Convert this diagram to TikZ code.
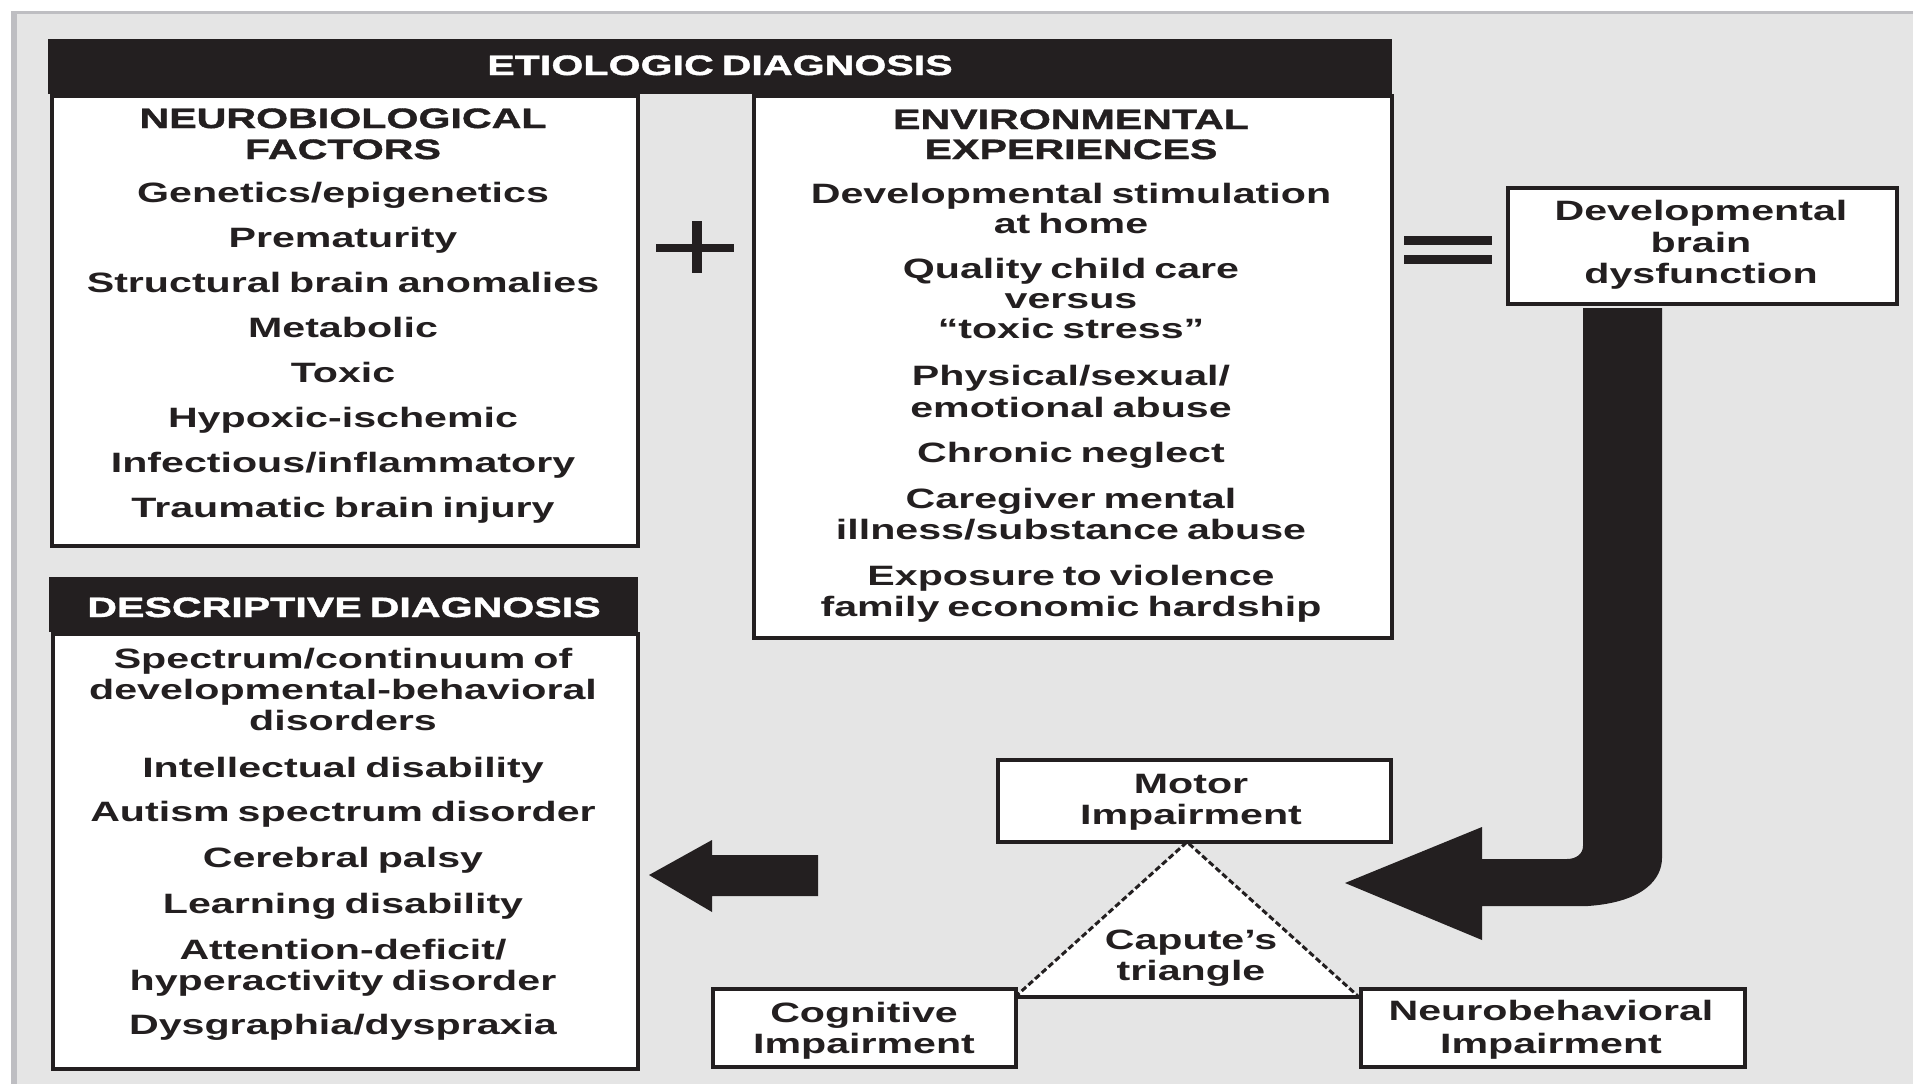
\documentclass[tikz,border=0pt]{standalone}
\usepackage{fontspec}
\setmainfont{Liberation Sans}[FakeStretch=1.47, WordSpace=0.7]
\newfontfamily\headfont{Liberation Sans}[FakeStretch=1.47, WordSpace=0.7, FakeBold=1.5]
\definecolor{ink}{HTML}{231F20}
\definecolor{bgc}{HTML}{E5E5E5}
\definecolor{framec}{HTML}{BEBEC2}
\newcommand\dfont{\fontsize{28}{31}\selectfont\bfseries}
\newcommand\hfont{\headfont\fontsize{28}{31}\selectfont\bfseries}
\tikzset{
  boxed/.style={draw=ink, line width=4pt, fill=white, inner sep=0pt, anchor=north west},
  headbar/.style={fill=ink, inner sep=0pt, anchor=north west},
  txt/.style={anchor=base, text=ink, font=\dfont, inner sep=0pt},
  hd/.style={txt, font=\hfont},
  wtxt/.style={hd, text=white},
  blockarrow/.style={fill=ink}
}
\begin{document}
\begin{tikzpicture}[x=1pt,y=-1pt]
\useasboundingbox (0,0) rectangle (1913,1084);
\fill[white] (0,0) rectangle (1913,1084);
% frame
\fill[bgc] (11,11) rectangle (1913,1084);
\fill[framec] (11,11) rectangle (1913,14);
\fill[framec] (11,11) rectangle (17,1084);

% etiologic diagnosis
\node[boxed, minimum width=586pt, minimum height=450pt] (neuro) at (50,94) {};
\node[boxed, minimum width=638pt, minimum height=542pt] (env) at (752,94) {};
\node[headbar, minimum width=1344pt, minimum height=55pt] (etiohead) at (48,39) {};
\node[wtxt] (etiotitle) at (720,75) {ETIOLOGIC DIAGNOSIS};

\node[hd] (nbh1) at (343,128) {NEUROBIOLOGICAL};
\node[hd] (nbh2) at (343,159) {FACTORS};
\foreach \b/\t [count=\i] in {202/{Genetics/epigenetics}, 247/{Prematurity}, 292/{Structural brain anomalies}, 337/{Metabolic}, 382/{Toxic}, 427/{Hypoxic-ischemic}, 472/{Infectious/inflammatory}, 517/{Traumatic brain injury}}
  \node[txt] (nb\i) at (343,\b) {\t};

\node[hd] (evh1) at (1071,129) {ENVIRONMENTAL};
\node[hd] (evh2) at (1071,159) {EXPERIENCES};
\foreach \b/\t [count=\i] in {203/{Developmental stimulation}, 233/{at home}, 278/{Quality child care}, 308/{versus}, 338/{``toxic stress''}, 385/{Physical/sexual/}, 417/{emotional abuse}, 462/{Chronic neglect}, 508/{Caregiver mental}, 539/{illness/substance abuse}, 585/{Exposure to violence}, 616/{family economic hardship}}
  \node[txt] (ev\i) at (1071,\b) {\t};

% plus and equals
\fill[ink] (656,244) rectangle (734,252);
\fill[ink] (692,221) rectangle (702,273);
\fill[ink] (1404,236) rectangle (1492,245);
\fill[ink] (1404,255) rectangle (1492,264);

% developmental brain dysfunction
\node[boxed, minimum width=389pt, minimum height=116pt] (dbd) at (1506,186) {};
\node[txt] (dbd1) at (1701,220) {Developmental};
\node[txt] (dbd2) at (1701,252) {brain};
\node[txt] (dbd3) at (1701,283) {dysfunction};

% descriptive diagnosis
\node[boxed, minimum width=585pt, minimum height=435pt] (desc) at (51,632) {};
\node[headbar, minimum width=589pt, minimum height=55pt] (deschead) at (49,577) {};
\node[wtxt] (desctitle) at (344,617) {DESCRIPTIVE DIAGNOSIS};
\foreach \b/\t [count=\i] in {668/{Spectrum/continuum of}, 699/{developmental-behavioral}, 730/{disorders}, 777/{Intellectual disability}, 821/{Autism spectrum disorder}, 867/{Cerebral palsy}, 913/{Learning disability}, 959/{Attention-deficit/}, 990/{hyperactivity disorder}, 1034/{Dysgraphia/dyspraxia}}
  \node[txt] (ds\i) at (343,\b) {\t};

% Capute's triangle
\coordinate (tA) at (1187,842);
\coordinate (tL) at (1015,997);
\coordinate (tR) at (1359,997);
\fill[white] (tA) -- (tL) -- (tR) -- cycle;
\draw[ink, line width=3pt, dash pattern=on 6pt off 3pt] (tL) -- (tA) -- (tR);
\draw[ink, line width=3.5pt] (tL) -- (tR);
\node[txt] (cap1) at (1191,949) {Capute's};
\node[txt] (cap2) at (1191,980) {triangle};

\node[boxed, minimum width=393pt, minimum height=82pt] (motor) at (996,758) {};
\node[txt] (mot1) at (1191,793) {Motor};
\node[txt] (mot2) at (1191,824) {Impairment};

\node[boxed, minimum width=303pt, minimum height=78pt] (cog) at (711,987) {};
\node[txt] (cog1) at (864,1022) {Cognitive};
\node[txt] (cog2) at (864,1053) {Impairment};

\node[boxed, minimum width=384pt, minimum height=78pt] (nbeh) at (1359,987) {};
\node[txt] (nbe1) at (1551,1020) {Neurobehavioral};
\node[txt] (nbe2) at (1551,1053) {Impairment};

% big bent arrow from dysfunction box down and left
\fill[blockarrow] (1583,308) -- (1662,308) -- (1662,858)
  .. controls (1662,878) and (1645,902) .. (1588,906)
  -- (1482,906) -- (1482,940) -- (1345,883) -- (1482,827) -- (1482,859)
  -- (1567,859) .. controls (1576,859) and (1583,854) .. (1583,846) -- cycle;

% left arrow into descriptive diagnosis
\fill[blockarrow] (818,855) -- (712,855) -- (712,840) -- (649,875) -- (712,912) -- (712,896) -- (818,896) -- cycle;
\end{tikzpicture}
\end{document}
